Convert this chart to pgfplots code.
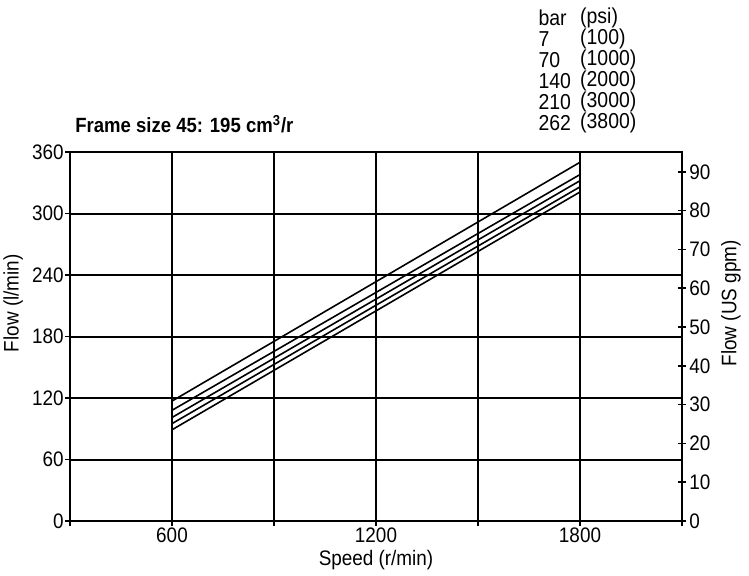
\documentclass[border=0pt]{standalone}
\usepackage{fontspec}
\setmainfont{Liberation Sans}[FakeStretch=0.9]
\usepackage{pgfplots}
\pgfplotsset{compat=1.18}

\pgfplotsset{
  every axis/.append style={
    font=\fontsize{10.5}{12}\selectfont,
    /pgf/number format/assume math mode=true,
    /pgf/number format/1000 sep={},
  },
}
\tikzset{leg/.style={anchor=west, inner sep=0pt, font=\fontsize{10.8}{12}\selectfont}}

\begin{document}
\begin{tikzpicture}
\useasboundingbox (0,0) rectangle (374.5pt,287.5pt);

% main axis: flow in l/min
\begin{axis}[
  name=main,
  at={(35pt,27pt)}, anchor=south west,
  scale only axis,
  width=306pt, height=184.5pt,
  xmin=300, xmax=2100,
  ymin=0, ymax=360,
  xtick={300,600,...,2100},
  xticklabels={,600,,1200,,1800,},
  ytick={0,60,...,360},
  tick align=outside,
  major tick length=2.5pt,
  tick style={black, line width=0.8pt},
  xtick pos=bottom, ytick pos=left,
  grid=major,
  major grid style={black, line width=1pt},
  axis line style={line width=1pt},
  yticklabel style={inner xsep=0.5pt},
  xticklabel style={yshift=2.5pt},
  xlabel={Speed (r/min)},
  ylabel={Flow (l/min)},
  xlabel style={at={(rel axis cs:0.5,-0.106)}, anchor=center},
  ylabel style={at={(rel axis cs:-0.093,0.59)}, anchor=center},
  clip=false,
]
\addplot[black, line width=0.8pt] coordinates {(600,117) (1800,350)};
\addplot[black, line width=0.8pt] coordinates {(600,108) (1800,338)};
\addplot[black, line width=0.8pt] coordinates {(600,101) (1800,332)};
\addplot[black, line width=0.8pt] coordinates {(600,95) (1800,326)};
\addplot[black, line width=0.8pt] coordinates {(600,89) (1800,321)};

\node[anchor=west, inner sep=0pt, font=\fontsize{10.3}{12}\selectfont\bfseries]
  at (rel axis cs:0.008,1.076) {Frame size 45: 195 cm\textsuperscript{3}/r};

% pressure list
\node[leg] at (rel axis cs:0.765,1.363) {bar};
\node[leg] at (rel axis cs:0.833,1.363) {(psi)};
\node[leg] at (rel axis cs:0.765,1.306) {7};
\node[leg] at (rel axis cs:0.833,1.306) {(100)};
\node[leg] at (rel axis cs:0.765,1.249) {70};
\node[leg] at (rel axis cs:0.833,1.249) {(1000)};
\node[leg] at (rel axis cs:0.765,1.192) {140};
\node[leg] at (rel axis cs:0.833,1.192) {(2000)};
\node[leg] at (rel axis cs:0.765,1.136) {210};
\node[leg] at (rel axis cs:0.833,1.136) {(3000)};
\node[leg] at (rel axis cs:0.765,1.079) {262};
\node[leg] at (rel axis cs:0.833,1.079) {(3800)};
\end{axis}

% right axis: flow in US gpm
\begin{axis}[
  at={(35pt,27pt)}, anchor=south west,
  scale only axis,
  width=306pt, height=184.5pt,
  xmin=300, xmax=2100,
  ymin=0, ymax=95.11,
  axis x line=none,
  axis y line*=right,
  ytick={0,10,...,90},
  tick align=center,
  major tick length=4pt,
  tick style={black, line width=0.8pt},
  axis line style={line width=1pt},
  yticklabel style={inner xsep=1.5pt},
  ylabel={Flow (US gpm)},
  ylabel style={at={(rel axis cs:1.080,0.59)}, anchor=center},
]
\end{axis}
\end{tikzpicture}
\end{document}
